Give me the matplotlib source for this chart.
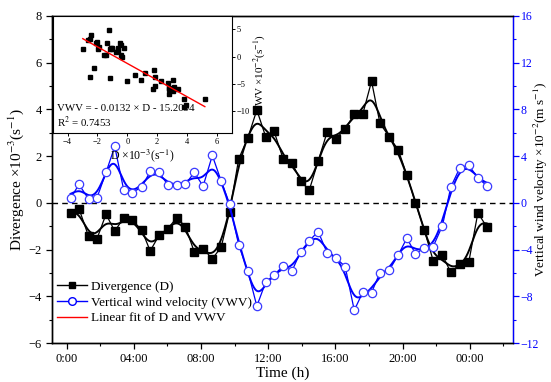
import numpy as np
import matplotlib
matplotlib.use("Agg")
import matplotlib.pyplot as plt
from matplotlib.ticker import MultipleLocator, FixedLocator
from matplotlib.lines import Line2D

plt.rcParams['font.family'] = ['Liberation Serif', 'DejaVu Serif']
plt.rcParams['mathtext.fontset'] = 'stix'

# ---- data ----
time_h = [0.23, 0.73, 1.30, 1.80, 2.34, 2.86, 3.40, 3.91, 4.47, 4.97,
          5.50, 6.03, 6.56, 7.07, 7.60, 8.12, 8.67, 9.20, 9.70, 10.24,
          10.79, 11.32, 11.85, 12.34, 12.89, 13.41, 13.93, 14.44, 14.97, 15.51,
          16.03, 16.58, 17.12, 17.62, 18.15, 18.65, 19.20, 19.74, 20.25, 20.76,
          21.30, 21.82, 22.37, 22.87, 23.41, 23.94, 24.48, 25.00]
divergence = [-0.42, -0.25, -1.43, -1.54, -0.49, -1.21, -0.64, -0.74, -1.17, -2.06,
              -1.39, -1.10, -0.63, -1.03, -2.11, -1.96, -2.40, -1.89, -0.38, 1.88,
              2.79, 3.97, 2.82, 3.07, 1.87, 1.72, 0.93, 0.54, 1.78, 3.04,
              2.75, 3.15, 3.80, 3.78, 5.20, 3.40, 2.83, 2.26, 1.19, 0.01,
              -1.18, -2.48, -2.24, -2.98, -2.61, -2.53, -0.43, -1.02]
vwv = [0.39, 1.57, 0.33, 0.42, 2.60, 4.82, 1.06, 0.88, 1.35, 2.68,
       2.60, 1.52, 1.55, 1.59, 2.60, 1.42, 4.05, 1.85, -0.10, -3.61,
       -5.87, -8.84, -6.78, -6.18, -5.40, -5.84, -4.17, -3.25, -2.46, -4.30,
       -4.72, -5.46, -9.20, -7.67, -7.68, -5.97, -5.77, -4.46, -3.03, -4.34,
       -3.89, -3.74, -1.96, 1.36, 3.01, 3.22, 2.12, 1.48]
xtick_pos = [0, 4, 8, 12, 16, 20, 24]
xtick_labels = ['0:00', '04:00', '08:00', '12:00', '16:00', '20:00', '00:00']
fit_text = ['VWV = - 0.0132 × D - 15.2094', 'R$^2$ = 0.7453']

t = np.array(time_h)
d = np.array(divergence)
w = np.array(vwv)

def smooth(x, y, s=0.42, n=600):
    xg = np.linspace(x[0], x[-1], n)
    k = np.exp(-0.5 * ((xg[:, None] - x[None, :]) / s) ** 2)
    return xg, (k * y[None, :]).sum(1) / k.sum(1)

BLUE = '#0000ff'
fig = plt.figure(figsize=(5.51, 3.82), dpi=100)
ax = fig.add_axes([0.0944, 0.102, 0.8366, 0.8566])
ax2 = ax.twinx()

ax.set_xlim(-0.875, 26.57)
ax.set_ylim(-6, 8)
ax2.set_ylim(-12, 16)

ax.axhline(0, color='black', lw=1.0, ls=(0, (4, 3)))

# divergence
ax.plot(t, d, color='black', lw=0.9, zorder=3)
xs, ys = smooth(t, d)
ax.plot(xs, ys, color='black', lw=1.4, zorder=3)
ax.plot(t, d, ls='none', marker='s', ms=5.5, color='black', zorder=4)

# vertical wind velocity
ax2.plot(t, w, color=BLUE, lw=0.9, zorder=3)
xs2, ys2 = smooth(t, w)
ax2.plot(xs2, ys2, color=BLUE, lw=1.4, zorder=3)
ax2.plot(t, w, ls='none', marker='o', ms=6, mfc='white', mec='#3a3aff', mew=0.9, zorder=4)

# ticks
ax.xaxis.set_major_locator(FixedLocator(xtick_pos))
ax.set_xticklabels(xtick_labels)
ax.xaxis.set_minor_locator(FixedLocator([2, 6, 10, 14, 18, 22, 26]))
ax.yaxis.set_major_locator(MultipleLocator(2))
ax.yaxis.set_minor_locator(MultipleLocator(1))
ax2.yaxis.set_major_locator(MultipleLocator(4))
ax2.yaxis.set_minor_locator(MultipleLocator(2))
ax.tick_params(axis='both', which='major', direction='out', length=4, width=0.9, labelsize=9)
ax.tick_params(axis='both', which='minor', direction='out', length=2.5, width=0.8)
ax2.tick_params(axis='y', which='major', direction='out', length=4, width=0.9, labelsize=8.5,
                colors=BLUE, pad=1.5)
ax2.tick_params(axis='y', which='minor', direction='out', length=2.5, width=0.8, colors=BLUE)
ax2.spines['right'].set_color(BLUE)
ax2.spines['right'].set_linewidth(1.0)
for s in ['left', 'top', 'bottom']:
    ax.spines[s].set_linewidth(1.0)
    ax2.spines[s].set_linewidth(1.0)

ax.set_xlabel('Time (h)', fontsize=11, labelpad=1)
ax.set_ylabel('Divergence ×10$^{-3}$(s$^{-1}$)', fontsize=11, labelpad=2)
ax2.set_ylabel('Vertical wind velocity ×10$^{-2}$(m s$^{-1}$)', fontsize=9.5)
ax2.yaxis.set_label_coords(1.042, 0.5)

# legend
handles = [Line2D([], [], color='black', lw=1, marker='s', ms=5),
           Line2D([], [], color=BLUE, lw=1, marker='o', ms=5.5, mfc='white', mec=BLUE),
           Line2D([], [], color='red', lw=1)]
labels = ['Divergence (D)', 'Vertical wind velocity (VWV)', 'Linear fit of D and VWV']
ax2.legend(handles, labels, loc='upper left', bbox_to_anchor=(0.011, 0.19),
           frameon=False, fontsize=9.5, handlelength=2.3, handletextpad=0.3,
           borderpad=0, borderaxespad=0, labelspacing=0.25)

# inset scatter
ins = fig.add_axes([0.0956, 0.651, 0.3249, 0.3076])
ins.set_xlim(-5, 7)
ins.set_ylim(-14, 7.5)
ins.plot(d, w, ls='none', marker='s', ms=2.2, color='black')
coef = np.polyfit(d, w, 1)
xf = np.array([d.min(), d.max()])
ins.plot(xf, np.polyval(coef, xf), color='red', lw=1.0)
ins.xaxis.set_major_locator(MultipleLocator(2))
ins.yaxis.set_major_locator(MultipleLocator(5))
ins.yaxis.tick_right()
ins.yaxis.set_label_position('right')
ins.tick_params(axis='both', direction='out', length=2, width=0.7, labelsize=6, pad=1.2)
ins.set_xlabel('D ×10$^{-3}$(s$^{-1}$)', fontsize=8.5, labelpad=1)
ins.set_ylabel('VWV ×10$^{-2}$(s$^{-1}$)', fontsize=8, labelpad=1)
ins.text(0.025, 0.21, fit_text[0], transform=ins.transAxes, fontsize=7.8, va='center')
ins.text(0.025, 0.09, fit_text[1], transform=ins.transAxes, fontsize=7.8, va='center')
for s in ins.spines.values():
    s.set_linewidth(0.8)

fig.savefig('out.png', dpi=100)
